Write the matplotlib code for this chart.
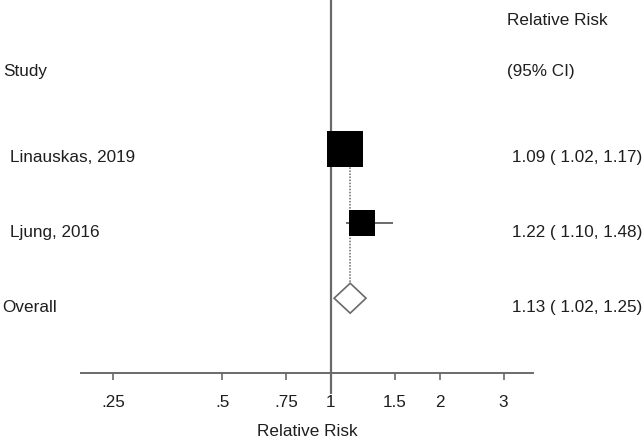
import numpy as np
import matplotlib.pyplot as plt
from matplotlib.patches import Polygon
from matplotlib.transforms import blended_transform_factory

plt.rcParams['font.family'] = ['Liberation Sans', 'DejaVu Sans']

studies = ["Linauskas, 2019", "Ljung, 2016"]
rr = [1.09, 1.22]
ci_lo = [1.02, 1.10]
ci_hi = [1.17, 1.48]
weights = [67.4, 32.6]

overall_label = "Overall"
overall_rr = 1.13
overall_lo = 1.02
overall_hi = 1.25

tick_vals = [0.25, 0.5, 0.75, 1, 1.5, 2, 3]
tick_labels = [".25", ".5", ".75", "1", "1.5", "2", "3"]

GRAY = "#6a6a6a"
TXT = "#1e1e1e"
FS = 12.3

fig = plt.figure(figsize=(6.44, 4.39), dpi=100)
ax = fig.add_axes([81 / 644, 1 - 374 / 439, (533 - 81) / 644, 374 / 439])
ax.set_xscale("log")
ax.set_xlim(0.2035, 3.62)
ax.set_ylim(3.0, -2.0)

rows = np.arange(len(studies))
orow = len(studies)

# null line
ax.vlines(1, -2.0, 3.28, color=GRAY, lw=1.6, clip_on=False, zorder=1)
# overall dotted line
ax.vlines(overall_rr, rows[0], orow, color=GRAY, lw=1.1, linestyles=(0, (1.0, 1.0)), zorder=2)

# CIs and squares
for i in rows:
    ax.hlines(i, ci_lo[i], ci_hi[i], color=GRAY, lw=1.4, zorder=3)
    side = 4.385 * np.sqrt(weights[i]) * 72 / 100
    ax.plot(rr[i], i, marker="s", ms=side, color="black", mew=0, zorder=4)

# diamond
h = 0.2
dia = Polygon([(overall_lo, orow), (overall_rr, orow - h), (overall_hi, orow), (overall_rr, orow + h)],
              closed=True, facecolor="white", edgecolor=GRAY, lw=1.2, zorder=4)
ax.add_patch(dia)

# axes styling
for s in ["top", "right", "left"]:
    ax.spines[s].set_visible(False)
ax.spines["bottom"].set_color(GRAY)
ax.spines["bottom"].set_linewidth(1.4)
ax.set_yticks([])
ax.set_xticks(tick_vals)
ax.set_xticklabels(tick_labels)
ax.xaxis.set_minor_locator(plt.NullLocator())
ax.tick_params(axis="x", length=5, width=1.2, color=GRAY, pad=10, labelsize=FS, labelcolor=TXT)
ax.set_xlabel("Relative Risk", fontsize=FS, color=TXT, labelpad=10)

# text columns
tr = blended_transform_factory(fig.transFigure, ax.transData)
off = 0.11
ax.text(3 / 644, -1.04, "Study", transform=tr, fontsize=FS, color=TXT, va="center", ha="left")
ax.text(507 / 644, -1.72, "Relative Risk", transform=tr, fontsize=FS, color=TXT, va="center", ha="left")
ax.text(507 / 644, -1.04, "(95% CI)", transform=tr, fontsize=FS, color=TXT, va="center", ha="left")
for i in rows:
    ax.text(10 / 644, i + off, studies[i], transform=tr, fontsize=FS, color=TXT, va="center", ha="left")
    ax.text(512 / 644, i + off, "%.2f ( %.2f, %.2f)" % (rr[i], ci_lo[i], ci_hi[i]),
            transform=tr, fontsize=FS, color=TXT, va="center", ha="left")
ax.text(2 / 644, orow + off, overall_label, transform=tr, fontsize=FS, color=TXT, va="center", ha="left")
ax.text(512 / 644, orow + off, "%.2f ( %.2f, %.2f)" % (overall_rr, overall_lo, overall_hi),
        transform=tr, fontsize=FS, color=TXT, va="center", ha="left")

fig.savefig("out.png", dpi=100)
